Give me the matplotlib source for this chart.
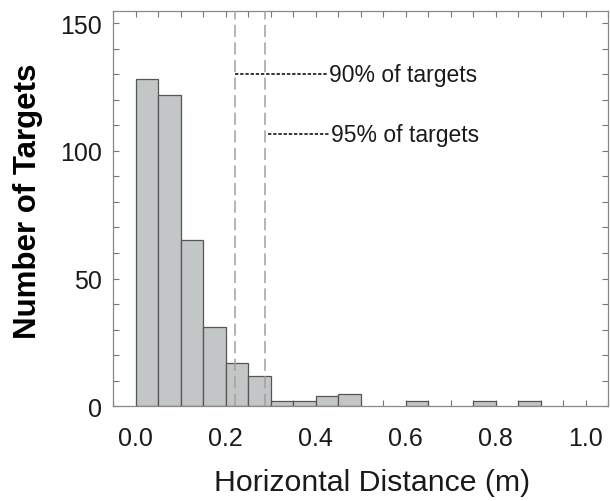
import matplotlib.pyplot as plt
import numpy as np

# histogram bins (left edges, width 0.05 m) and counts
bin_left = [0.0, 0.05, 0.10, 0.15, 0.20, 0.25, 0.30, 0.35, 0.40, 0.45, 0.60, 0.75, 0.85]
counts = [128, 122, 65, 31, 17, 12, 2, 2, 4, 5, 2, 2, 2]
bin_width = 0.05

# percentile markers
p90 = 0.221
p95 = 0.287
p90_label = "90% of targets"
p95_label = "95% of targets"
p90_y = 130
p95_y = 106.5
label_x = 0.425

plt.rcParams["font.family"] = ["Liberation Sans", "DejaVu Sans"]

fig = plt.figure(figsize=(6.1, 5.02), dpi=100)
ax = fig.add_axes([0.1857, 0.1886, 0.811, 0.787])

ax.bar(bin_left, counts, width=bin_width, align="edge",
       color="#c3c6c6", edgecolor="#555555", linewidth=0.9, zorder=2)

ax.axvline(p90, color="#a0a0a0", linestyle=(0, (8, 3.5)), linewidth=1.1, zorder=3)
ax.axvline(p95, color="#a0a0a0", linestyle=(0, (8, 3.5)), linewidth=1.1, zorder=3)

# dashed leader lines to the labels
ax.plot([p90, label_x], [p90_y, p90_y], color="black",
        linestyle=(0, (2.2, 1.2)), linewidth=1.1, zorder=4)
ax.plot([p95 + 0.007, label_x + 0.005], [p95_y, p95_y], color="black",
        linestyle=(0, (2.2, 1.2)), linewidth=1.1, zorder=4)
ax.text(label_x + 0.004, p90_y, p90_label, fontsize=16.5, va="center", ha="left",
        color="#1a1a1a")
ax.text(label_x + 0.010, p95_y, p95_label, fontsize=16.5, va="center", ha="left",
        color="#1a1a1a")

ax.set_xlim(-0.05, 1.05)
ax.set_ylim(0, 154.6)
ax.set_xticks(np.arange(0, 1.01, 0.2))
ax.set_xticklabels(["0.0", "0.2", "0.4", "0.6", "0.8", "1.0"])
ax.set_xticks(np.arange(-0.05, 1.051, 0.05), minor=True)
ax.set_yticks([0, 50, 100, 150])
ax.set_yticks(np.arange(0, 155, 10), minor=True)

ax.tick_params(which="both", direction="in", top=True, right=True,
               color="#777777", labelsize=18, labelcolor="#1a1a1a")
ax.tick_params(axis="x", pad=14)
ax.tick_params(axis="y", pad=8)
ax.tick_params(which="both", length=4, width=0.8)
for s in ax.spines.values():
    s.set_color("#888888")
    s.set_linewidth(0.9)

ax.set_xlabel("Horizontal Distance (m)", fontsize=21.8, color="#1a1a1a")
ax.xaxis.set_label_coords(0.523, -0.157)
ax.set_ylabel("Number of Targets", fontsize=22.5, fontweight="bold")
ax.yaxis.set_label_coords(-0.143, 0.522)

fig.savefig("out.png", dpi=100)
